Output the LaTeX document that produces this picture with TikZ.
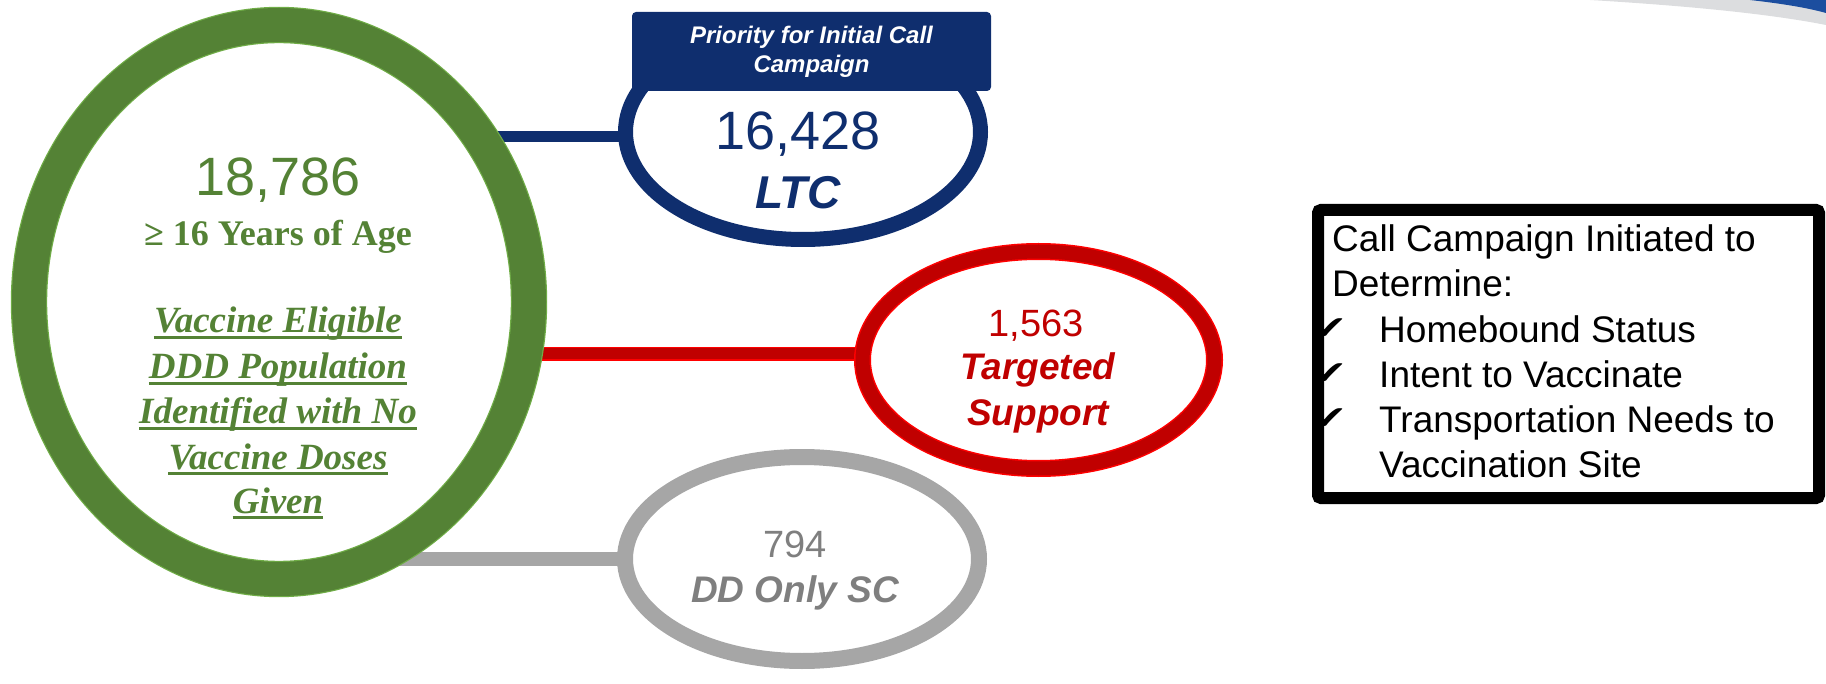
\documentclass[tikz,border=0pt]{standalone}
\usepackage{fontspec}
\usepackage{graphicx}
\setmainfont{Liberation Serif}
\setsansfont{Liberation Sans}
\newfontfamily\chkfont{DejaVu Sans}
\usetikzlibrary{shapes.geometric,backgrounds}
\definecolor{dkgreen}{HTML}{548235}
\definecolor{ltgreen}{HTML}{70AD47}
\definecolor{navy}{HTML}{0F2E6E}
\definecolor{dkred}{HTML}{C00000}
\definecolor{brred}{HTML}{FF0000}
\definecolor{ringgray}{HTML}{A6A6A6}
\definecolor{txtgray}{HTML}{7F7F7F}
\definecolor{swgray}{HTML}{DCDDDF}
\definecolor{swblue}{HTML}{1C4E9F}
\newcommand\fsz[2]{\fontsize{#1}{#2}\selectfont}
\newcommand\chkmark{\scalebox{1.35}[1.1]{✔}}
\tikzset{
  ring/.style={ellipse, inner sep=0pt, outer sep=0pt},
  lbl/.style={anchor=base, inner sep=0pt},
  lblw/.style={anchor=base west, inner sep=0pt},
  bodytxt/.style={lblw, font=\sffamily\fsz{37}{44}},
  chk/.style={lblw, font=\chkfont\fsz{30}{36}},
  ulin/.style={draw=dkgreen, line width=2.6pt},
}
\begin{document}
\begin{tikzpicture}[x=1pt,y=-1pt]
\useasboundingbox (0,0) rectangle (1826,684);

% top-right decoration
\fill[swgray] (1590,0) .. controls (1690,6) and (1770,14) .. (1826,25) -- (1826,0) -- cycle;
\fill[swblue] (1750,0) .. controls (1785,4) and (1808,8) .. (1826,13) -- (1826,0) -- cycle;

% ellipses
\node[ring, minimum width=500pt, minimum height=554pt, fill=white,
      draw=ltgreen, line width=1.2pt, double=dkgreen, double distance=34pt] (green) at (279,302) {};
\node[ring, minimum width=355pt, minimum height=215pt, fill=white,
      draw=navy, line width=15pt] (ltc) at (803,132) {};
\node[ring, minimum width=352pt, minimum height=217pt, fill=white,
      draw=brred, line width=1.5pt, double=dkred, double distance=14pt] (tgt) at (1038.5,360) {};
\node[ring, minimum width=354pt, minimum height=204pt, fill=white,
      draw=ringgray, line width=16pt] (ddo) at (802,559) {};

% connectors
\coordinate (bl) at ([yshift=-5pt]ltc.west);
\coordinate (rl) at ([yshift=6pt]tgt.west);
\begin{scope}[on background layer]
  \draw[navy, line width=11pt] (green.center |- bl) -- (bl);
  \draw[brred, line width=1.5pt, double=dkred, double distance=11pt] (green.center |- rl) -- (rl);
  \draw[ringgray, line width=14pt] (green.center |- ddo.west) -- (ddo.west);
\end{scope}

% priority box
\node[fill=navy, rounded corners=4pt, minimum width=359pt, minimum height=79pt, inner sep=0pt,
      text=white, align=center, font=\sffamily\bfseries\itshape\fsz{24}{29}] (prio) at (811.5,51.5)
      {Priority for Initial Call\\Campaign};

% green texts
\node[lbl, text=dkgreen, font=\sffamily\fsz{54}{64}] (gnum) at (278,196) {18,786};
\node[lbl, text=dkgreen, font=\rmfamily\bfseries\fsz{36}{43}] (gage) at (278,246) {≥ 16 Years of Age};
\begin{scope}[every node/.style={lbl, text=dkgreen, font=\rmfamily\bfseries\itshape\fsz{37}{45}}]
  \node (g1) at (278,333) {Vaccine Eligible};
  \node (g2) at (278,379) {DDD Population};
  \node (g3) at (278,424) {Identified with No};
  \node (g4) at (278,469) {Vaccine Doses};
  \node (g5) at (278,513) {Given};
\end{scope}
\foreach \g in {g1,g2,g3,g4,g5}
  \draw[ulin] ([yshift=-4.5pt]\g.base west) -- ([yshift=-4.5pt]\g.base east);

% blue texts
\node[lbl, text=navy, font=\sffamily\fsz{54}{64}] (bnum) at (798,150) {16,428};
\node[lbl, text=navy, font=\sffamily\bfseries\itshape\fsz{46}{54}] (bltc) at (798,209) {LTC};

% red texts
\node[lbl, text=dkred, font=\sffamily\fsz{38}{45}] (rnum) at (1036,337) {1,563};
\node[lbl, text=dkred, font=\sffamily\bfseries\itshape\fsz{37}{44}] (rt1) at (1038,380) {Targeted};
\node[lbl, text=dkred, font=\sffamily\bfseries\itshape\fsz{37}{44}] (rt2) at (1038,425) {Support};

% gray texts
\node[lbl, text=txtgray, font=\sffamily\fsz{38}{45}] (gynum) at (795,557) {794};
\node[lbl, text=txtgray, font=\sffamily\bfseries\itshape\fsz{37}{44}] (gyt) at (795,602) {DD Only SC};

% call campaign box
\node[draw=black, line width=12pt, rounded corners=3pt, minimum width=501pt, minimum height=288pt,
      inner sep=0pt] (callbox) at (1568.5,354) {};
\node[bodytxt] (c1) at (1332,252) {Call Campaign Initiated to};
\node[bodytxt] (c2) at (1332,297) {Determine:};
\node[chk] (k1) at (1313,340) {\chkmark};
\node[bodytxt] (c3) at (1379,343) {Homebound Status};
\node[chk] (k2) at (1313,385) {\chkmark};
\node[bodytxt] (c4) at (1379,388) {Intent to Vaccinate};
\node[chk] (k3) at (1313,429) {\chkmark};
\node[bodytxt] (c5) at (1379,432) {Transportation Needs to};
\node[bodytxt] (c6) at (1379,477) {Vaccination Site};
\end{tikzpicture}
\end{document}
